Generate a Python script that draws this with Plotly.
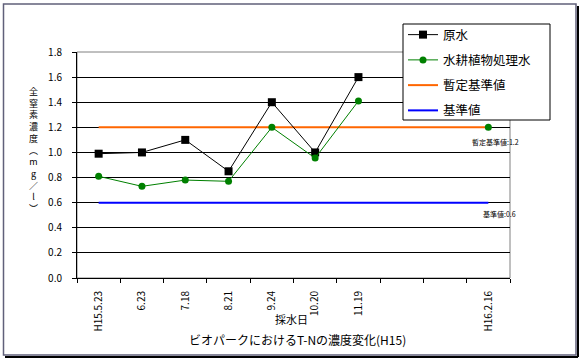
import plotly.graph_objects as go

# ---- data ----
dates = ["H15.5.23", "6.23", "7.18", "8.21", "9.24", "10.20", "11.19", "", "", "H16.2.16"]
raw_water = [0.99, 1.0, 1.1, 0.85, 1.4, 1.0, 1.6, None, None, None]
treated_water = [0.81, 0.73, 0.78, 0.77, 1.2, 0.955, 1.41, None, None, 1.2]
provisional_std = 1.2
std_value = 0.6

idx = list(range(len(dates)))
FONT = "Noto Sans CJK JP"

fig = go.Figure()
fig.add_trace(go.Scatter(
    x=[idx[0], idx[-1]], y=[provisional_std, provisional_std], name="暫定基準値",
    mode="lines", line=dict(color="#FF6600", width=2), legendgroup="c", legendrank=3))
fig.add_trace(go.Scatter(
    x=[idx[0], idx[-1]], y=[std_value, std_value], name="基準値",
    mode="lines", line=dict(color="#0000FF", width=2), legendgroup="d", legendrank=4))
fig.add_trace(go.Scatter(
    x=idx, y=raw_water, name="原水", mode="lines+markers",
    line=dict(color="black", width=1),
    marker=dict(symbol="square", size=8, color="black"),
    connectgaps=False, legendgroup="a", legendrank=1))
fig.add_trace(go.Scatter(
    x=idx, y=treated_water, name="水耕植物処理水", mode="lines+markers",
    line=dict(color="#008000", width=1),
    marker=dict(symbol="circle", size=7, color="#008000"),
    connectgaps=False, legendgroup="b", legendrank=2))

L, R, T, B = 77, 510, 52, 278
W, H = 582, 360

def px(xp):
    return (xp - L) / (R - L)

def py(yp):
    return (B - yp) / (B - T)

fig.update_layout(
    width=W, height=H,
    margin=dict(l=L, r=W - R, t=T, b=H - B, pad=0, autoexpand=False),
    paper_bgcolor="white", plot_bgcolor="white",
    font=dict(family=FONT, color="black", size=10),
    showlegend=True,
    legend=dict(
        x=px(403), y=py(20), xanchor="left", yanchor="top",
        bgcolor="rgba(0,0,0,0)", borderwidth=0,
        font=dict(size=12.5, family=FONT), tracegroupgap=6,
        traceorder="grouped",
    ),
    xaxis=dict(
        range=[-0.5, len(dates) - 0.5],
        tickmode="array", tickvals=idx, ticktext=dates,
        tickangle=-90, ticks="", showgrid=False, zeroline=False,
        showline=True, linecolor="black", linewidth=1,
        tickfont=dict(size=10, family=FONT),
        ticklabelstandoff=8,
        minor=dict(tickmode="linear", tick0=-0.5, dtick=1, ticks="outside",
                   ticklen=4, tickcolor="black", showgrid=False),
    ),
    yaxis=dict(
        range=[0, 1.8], tickmode="linear", tick0=0, dtick=0.2,
        tickformat=".1f", ticks="outside", ticklen=4, tickcolor="black",
        showgrid=True, gridcolor="black", gridwidth=1, zeroline=False,
        showline=True, linecolor="black", linewidth=1,
        tickfont=dict(size=10, family=FONT),
        ticklabelstandoff=8,
    ),
)

# plot area gray border (top/right)
fig.add_shape(type="rect", xref="paper", yref="paper", x0=0, x1=1, y0=0, y1=1,
              line=dict(color="#808080", width=1), layer="between")

# legend box
fig.add_shape(type="rect", xref="paper", yref="paper",
              x0=px(403), x1=px(550), y0=py(120), y1=py(24),
              line=dict(color="black", width=1), fillcolor="white", layer="above")

# outer chart border with shadow
fig.add_shape(type="line", xref="paper", yref="paper",
              x0=px(578), x1=px(578), y0=py(6), y1=py(357),
              line=dict(color="black", width=2))
fig.add_shape(type="line", xref="paper", yref="paper",
              x0=px(5), x1=px(578), y0=py(357), y1=py(357),
              line=dict(color="black", width=2))
fig.add_shape(type="rect", xref="paper", yref="paper",
              x0=px(3.5), x1=px(576), y0=py(355), y1=py(4),
              line=dict(color="#60607a", width=1.5))

# y axis title (vertical stacked)
ytitle = ["全", "窒", "素", "濃", "度", "︵", "m", "g", "／", "l", "︶"]
fig.add_annotation(text="<br>".join(ytitle), xref="paper", yref="paper",
                   x=px(33), y=py(150), xanchor="center", yanchor="middle",
                   showarrow=False, font=dict(size=9, family=FONT))

# x axis title and chart title
fig.add_annotation(text="採水日", xref="paper", yref="paper",
                   x=px(291), y=py(319), xanchor="center", yanchor="middle",
                   showarrow=False, font=dict(size=11, family=FONT))
fig.add_annotation(text="ビオパークにおけるT-Nの濃度変化(H15)", xref="paper", yref="paper",
                   x=px(297), y=py(339), xanchor="center", yanchor="middle",
                   showarrow=False, font=dict(size=12, family=FONT))

# reference value labels
fig.add_annotation(text=f"暫定基準値:{provisional_std}", xref="paper", yref="y",
                   x=px(521), y=provisional_std - 0.12, xanchor="right", yanchor="middle",
                   showarrow=False, font=dict(size=7, family=FONT))
fig.add_annotation(text=f"基準値:{std_value}", xref="paper", yref="y",
                   x=px(518), y=std_value - 0.09, xanchor="right", yanchor="middle",
                   showarrow=False, font=dict(size=7, family=FONT))

fig.write_html("out.html", config={"displayModeBar": False},
               post_script="document.body.style.margin='0';")
